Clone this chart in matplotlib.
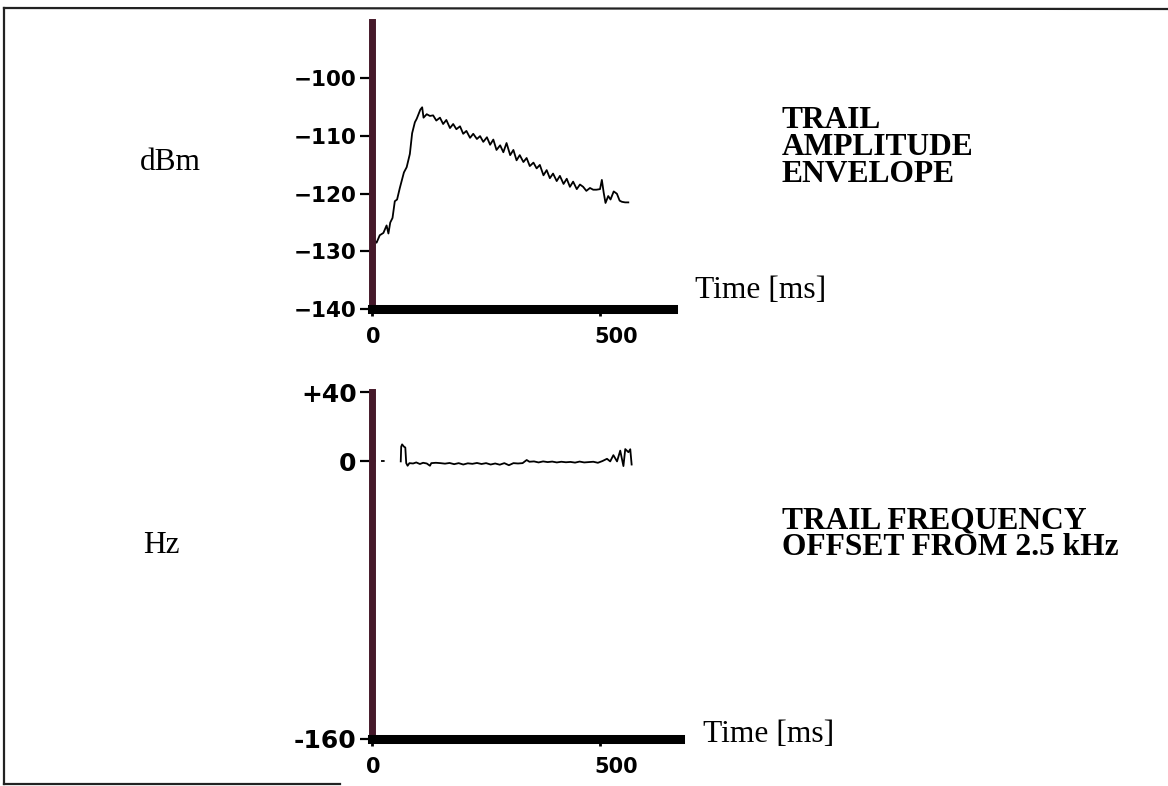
#!/bin/python3

# Meteor trail echo: amplitude envelope and frequency offset vs time

import matplotlib.pyplot as plt
from matplotlib.lines import Line2D
from matplotlib.transforms import ScaledTranslation

W, H = 1168, 786

# amplitude envelope (time in ms, level in dBm)
amp_t = [0, 2, 4, 10, 17, 25, 32, 36, 40, 45, 50, 55, 61, 66, 70, 76, 83, 88,
         94, 98, 106, 110, 113, 120, 127, 134, 141, 149, 156, 163, 171, 178,
         185, 193, 200, 207, 215, 222, 230, 237, 244, 252, 259, 266, 273, 281,
         288, 295, 303, 310, 317, 324, 332, 339, 346, 354, 361, 368, 376, 383,
         390, 397, 405, 412, 420, 427, 434, 441, 449, 456, 463, 470, 478, 485,
         492, 500, 504, 508, 512, 518, 523, 530, 537, 543, 548, 555, 562]
amp_db = [-125, -131, -128, -128.5, -127.2, -126.8, -125.5, -126.9, -125.0,
          -124.2, -121.3, -121.0, -119.0, -117.5, -116.3, -115.4, -113.1,
          -109.5, -107.6, -107.0, -105.4, -105.0, -106.8, -106.2, -106.5,
          -106.4, -107.3, -106.8, -107.9, -107.2, -108.6, -107.9, -108.8,
          -108.3, -109.6, -109.1, -110.3, -109.6, -110.5, -110.0, -111.0,
          -110.2, -111.5, -110.6, -112.4, -111.6, -112.8, -111.2, -113.3,
          -112.4, -114.2, -113.3, -114.5, -113.8, -115.2, -114.6, -115.6,
          -115.0, -116.8, -115.9, -117.3, -116.5, -117.8, -116.9, -118.3,
          -117.4, -118.8, -117.9, -119.2, -118.4, -118.8, -119.5, -119.0,
          -119.3, -119.3, -119.2, -117.6, -119.8, -121.6, -120.4, -121.0,
          -119.6, -120.0, -121.2, -121.4, -121.5, -121.5]

# frequency offset from 2.5 kHz (time in ms, offset in Hz)
freq_t = [63, 64, 66, 70, 73, 75, 78, 82, 90, 97, 105, 112, 120, 127, 130,
          140, 150, 160, 170, 180, 190, 200, 210, 220, 230, 240, 250, 260,
          270, 280, 290, 300, 310, 320, 330, 339, 345, 355, 365, 375, 385,
          395, 405, 415, 425, 435, 445, 455, 465, 475, 485, 495, 505, 515,
          522, 529, 537, 544, 551, 555, 562, 566, 569]
freq_hz = [0, 8.5, 9.8, 8.5, 8.0, -1.0, -2.5, -1.0, -1.2, -0.6, -1.5, -0.8,
           -1.2, -2.5, -1.0, -0.8, -1.0, -1.3, -0.9, -1.6, -1.0, -1.8, -1.1,
           -1.4, -0.9, -1.5, -1.0, -1.8, -1.2, -1.9, -1.0, -2.2, -1.0, -1.2,
           -1.0, 0.8, -0.2, 0.0, -0.6, 0.0, -0.4, -0.1, -0.6, -0.2, -0.5,
           -0.3, -0.7, -0.1, -0.6, -0.4, -0.2, -0.8, 0.2, 1.5, 0.0, 3.6, 0.0,
           6.2, -2.7, 7.1, 5.3, 7.0, -1.8]

amp_ticks = [-100, -110, -120, -130, -140]
amp_tick_labels = ['\u2212100', '\u2212110', '\u2212120', '\u2212130', '\u2212140']
freq_ticks = [40, 0, -160]
freq_tick_labels = ['+40', '0', '-160']
time_ticks = [0, 500]

SPINE = '#45192a'
SERIF = ['Liberation Serif', 'DejaVu Serif']
TXT = 22.7


def px_axes(fig, left, top, right, bottom):
    # place an axes by its pixel box (y measured from the top)
    return fig.add_axes([left / W, 1 - bottom / H, (right - left) / W, (bottom - top) / H])


def style(ax, yticks, ylabels, label_size):
    for side in ('top', 'right'):
        ax.spines[side].set_visible(False)
    ax.spines['left'].set_color(SPINE)
    ax.spines['left'].set_linewidth(5)
    ax.spines['bottom'].set_color('black')
    ax.spines['bottom'].set_linewidth(6.5)
    ax.set_yticks(yticks)
    ax.set_yticklabels(ylabels, fontsize=label_size, fontweight='bold')
    ax.set_xticks(time_ticks)
    ax.set_xticklabels([str(t) for t in time_ticks], fontsize=15, fontweight='bold')
    ax.tick_params(axis='y', direction='out', length=9, width=1.6, pad=2)
    ax.tick_params(axis='x', direction='out', length=5, width=2, pad=8)
    # time labels start just left of their tick
    shift = ScaledTranslation(-6 / 100, 0, fig.dpi_scale_trans)
    for lab in ax.get_xticklabels():
        lab.set_horizontalalignment('left')
        lab.set_transform(lab.get_transform() + shift)
    ax.patch.set_visible(False)


fig = plt.figure(figsize=(W / 100, H / 100), dpi=100)

# upper panel: amplitude envelope
ax1 = px_axes(fig, 372, 22, 673, 309)
ax1.plot(amp_t, amp_db, color='black', lw=1.3)
ax1.set_xlim(0, 660)
ax1.set_ylim(-140, -90.2)
style(ax1, amp_ticks, amp_tick_labels, 15.5)

# lower panel: frequency offset
ax2 = px_axes(fig, 372, 392, 680, 739)
ax2.plot(freq_t, freq_hz, color='black', lw=1.3)
ax2.hlines(0, 0, 28, colors='black', linestyles=(0, (2, 3)), lw=1.3)
ax2.set_xlim(0, 675)
ax2.set_ylim(-160, 40)
style(ax2, freq_ticks, freq_tick_labels, 18)

# axis captions and panel titles
fig.text(140 / W, 1 - 170 / H, 'dBm', family=SERIF, fontsize=TXT, va='baseline')
fig.text(143 / W, 1 - 553 / H, 'Hz', family=SERIF, fontsize=TXT, va='baseline')
fig.text(695 / W, 1 - 298 / H, 'Time [ms]', family=SERIF, fontsize=TXT, va='baseline')
fig.text(703 / W, 1 - 742 / H, 'Time [ms]', family=SERIF, fontsize=TXT, va='baseline')
fig.text(782 / W, 1 - 182 / H, 'TRAIL\nAMPLITUDE\nENVELOPE', family=SERIF,
         fontsize=TXT, fontweight='bold', va='baseline', linespacing=0.9)
fig.text(782 / W, 1 - 555 / H, 'TRAIL FREQUENCY\nOFFSET FROM 2.5 kHz', family=SERIF,
         fontsize=TXT, fontweight='bold', va='baseline', linespacing=0.9)

# page border: left, top and a short run along the bottom
for xs, ys in (([4, 4], [8, 784]), ([4, W], [8, 9]), ([4, 340], [784, 784])):
    fig.add_artist(Line2D([x / W for x in xs], [1 - y / H for y in ys],
                          color='#222222', lw=1.6))

fig.savefig('out.png', dpi=100)
